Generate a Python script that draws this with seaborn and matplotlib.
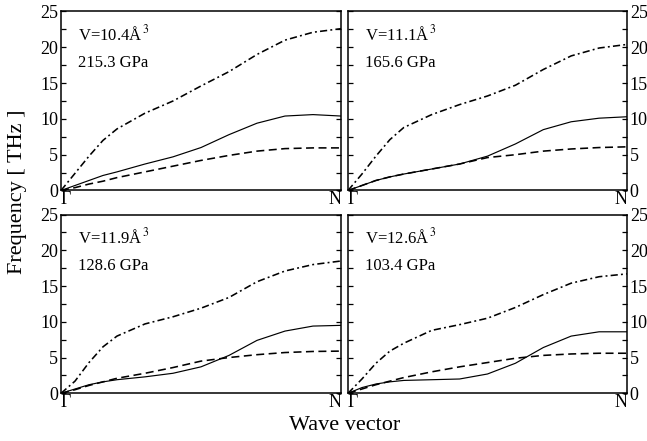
import numpy as np
import pandas as pd
import matplotlib
matplotlib.use("Agg")
import matplotlib.pyplot as plt
from matplotlib.ticker import MultipleLocator
import seaborn as sns

sns.set_theme(style="white")
plt.rcParams["font.family"] = ["Liberation Serif", "DejaVu Serif"]
plt.rcParams["mathtext.fontset"] = "stix"

# Reduced wave vector along Gamma -> N
q = [0.0, 0.05, 0.1, 0.15, 0.2, 0.3, 0.4, 0.5, 0.6, 0.7, 0.8, 0.9, 1.0]

volumes = ["10.4", "11.1", "11.9", "12.6"]
pressures = ["215.3 GPa", "165.6 GPa", "128.6 GPa", "103.4 GPa"]

# Phonon branches (THz) for each volume
upper_104 = [0.0, 2.4, 4.8, 7.0, 8.6, 10.8, 12.5, 14.6, 16.6, 19.0, 21.0, 22.1, 22.6]
middle_104 = [0.0, 0.7, 1.4, 2.1, 2.6, 3.7, 4.7, 6.0, 7.8, 9.4, 10.4, 10.6, 10.4]
lower_104 = [0.0, 0.4, 0.9, 1.3, 1.8, 2.6, 3.4, 4.2, 4.9, 5.5, 5.85, 5.95, 5.95]

upper_111 = [0.0, 2.3, 4.8, 7.1, 8.8, 10.6, 12.0, 13.2, 14.7, 16.9, 18.8, 19.9, 20.4]
middle_111 = [0.0, 0.7, 1.4, 1.9, 2.3, 3.0, 3.7, 4.8, 6.5, 8.5, 9.6, 10.1, 10.3]
lower_111 = [0.0, 0.7, 1.4, 1.9, 2.3, 3.0, 3.7, 4.6, 5.0, 5.5, 5.8, 6.0, 6.1]

upper_119 = [0.0, 1.7, 4.3, 6.5, 8.0, 9.7, 10.7, 11.9, 13.4, 15.6, 17.1, 18.0, 18.5]
middle_119 = [0.0, 0.6, 1.2, 1.6, 1.9, 2.3, 2.8, 3.7, 5.3, 7.4, 8.7, 9.4, 9.5]
lower_119 = [0.0, 0.5, 1.1, 1.6, 2.1, 2.8, 3.6, 4.5, 5.0, 5.4, 5.7, 5.85, 5.9]

upper_126 = [0.0, 2.0, 4.2, 5.9, 7.0, 8.8, 9.6, 10.5, 12.0, 13.8, 15.4, 16.3, 16.7]
middle_126 = [0.0, 0.8, 1.3, 1.6, 1.8, 1.9, 2.0, 2.7, 4.2, 6.4, 8.0, 8.6, 8.6]
lower_126 = [0.0, 0.6, 1.2, 1.7, 2.2, 3.0, 3.7, 4.3, 4.9, 5.3, 5.5, 5.6, 5.6]

branches = [
    (upper_104, middle_104, lower_104),
    (upper_111, middle_111, lower_111),
    (upper_119, middle_119, lower_119),
    (upper_126, middle_126, lower_126),
]

W, H = 647, 441
fig = plt.figure(figsize=(W / 100, H / 100), dpi=100)


def frac_box(x0, y0, x1, y1):
    return [x0 / W, 1 - y1 / H, (x1 - x0) / W, (y1 - y0) / H]


boxes = [
    frac_box(61, 11.5, 341, 190.5),
    frac_box(348, 11.5, 627, 190.5),
    frac_box(61, 214.5, 341, 393.3),
    frac_box(348, 214.5, 627, 393.3),
]

styles = [
    dict(ls=(0, (4.5, 2.0, 1.2, 2.0)), lw=1.15),  # upper branch
    dict(ls="-", lw=0.85),                         # middle branch
    dict(ls=(0, (5.0, 2.8)), lw=1.15),             # lower branch
]

for i, box in enumerate(boxes):
    ax = fig.add_axes(box)
    ax.set_facecolor("white")
    for vals, st in zip(branches[i], styles):
        df = pd.DataFrame({"q": q, "f": vals})
        sns.lineplot(data=df, x="q", y="f", ax=ax, color="black",
                     linestyle=st["ls"], linewidth=st["lw"])
    ax.set_xlim(0, 1)
    ax.set_ylim(0, 25)
    ax.set_xlabel("")
    ax.set_ylabel("")
    for sp in ax.spines.values():
        sp.set_visible(True)
        sp.set_color("black")
        sp.set_linewidth(1.1)

    ax.yaxis.set_major_locator(MultipleLocator(5))
    ax.yaxis.set_minor_locator(MultipleLocator(2.5))
    right = i % 2 == 1
    ax.tick_params(axis="y", which="both", direction="in", length=3.5,
                   width=0.9, color="black", left=True, right=True,
                   labelleft=not right, labelright=right,
                   labelsize=13, pad=2, labelcolor="black")
    ax.set_xticks([0, 1])
    ax.set_xticklabels(["Γ", "N"])
    ax.tick_params(axis="x", length=0, pad=0.5, labelsize=13,
                   labelcolor="black")
    xl = ax.get_xticklabels()
    xl[0].set_ha("left")
    xl[1].set_ha("right")

    ax.text(0.06, 0.84, "V=" + volumes[i] + r"Å$^{\,3}$", transform=ax.transAxes,
            fontsize=12, color="black", ha="left", va="baseline")
    ax.text(0.06, 0.69, pressures[i], transform=ax.transAxes,
            fontsize=12, color="black", ha="left", va="baseline")

fig.text(0.027, 0.565, "Frequency [ THz ]", rotation=90, ha="center",
         va="center", fontsize=16, color="black")
fig.text(345 / W, 1 - 425 / H, "Wave vector", ha="center", va="center",
         fontsize=16, color="black")

fig.savefig("out.png", dpi=100, facecolor="white")
